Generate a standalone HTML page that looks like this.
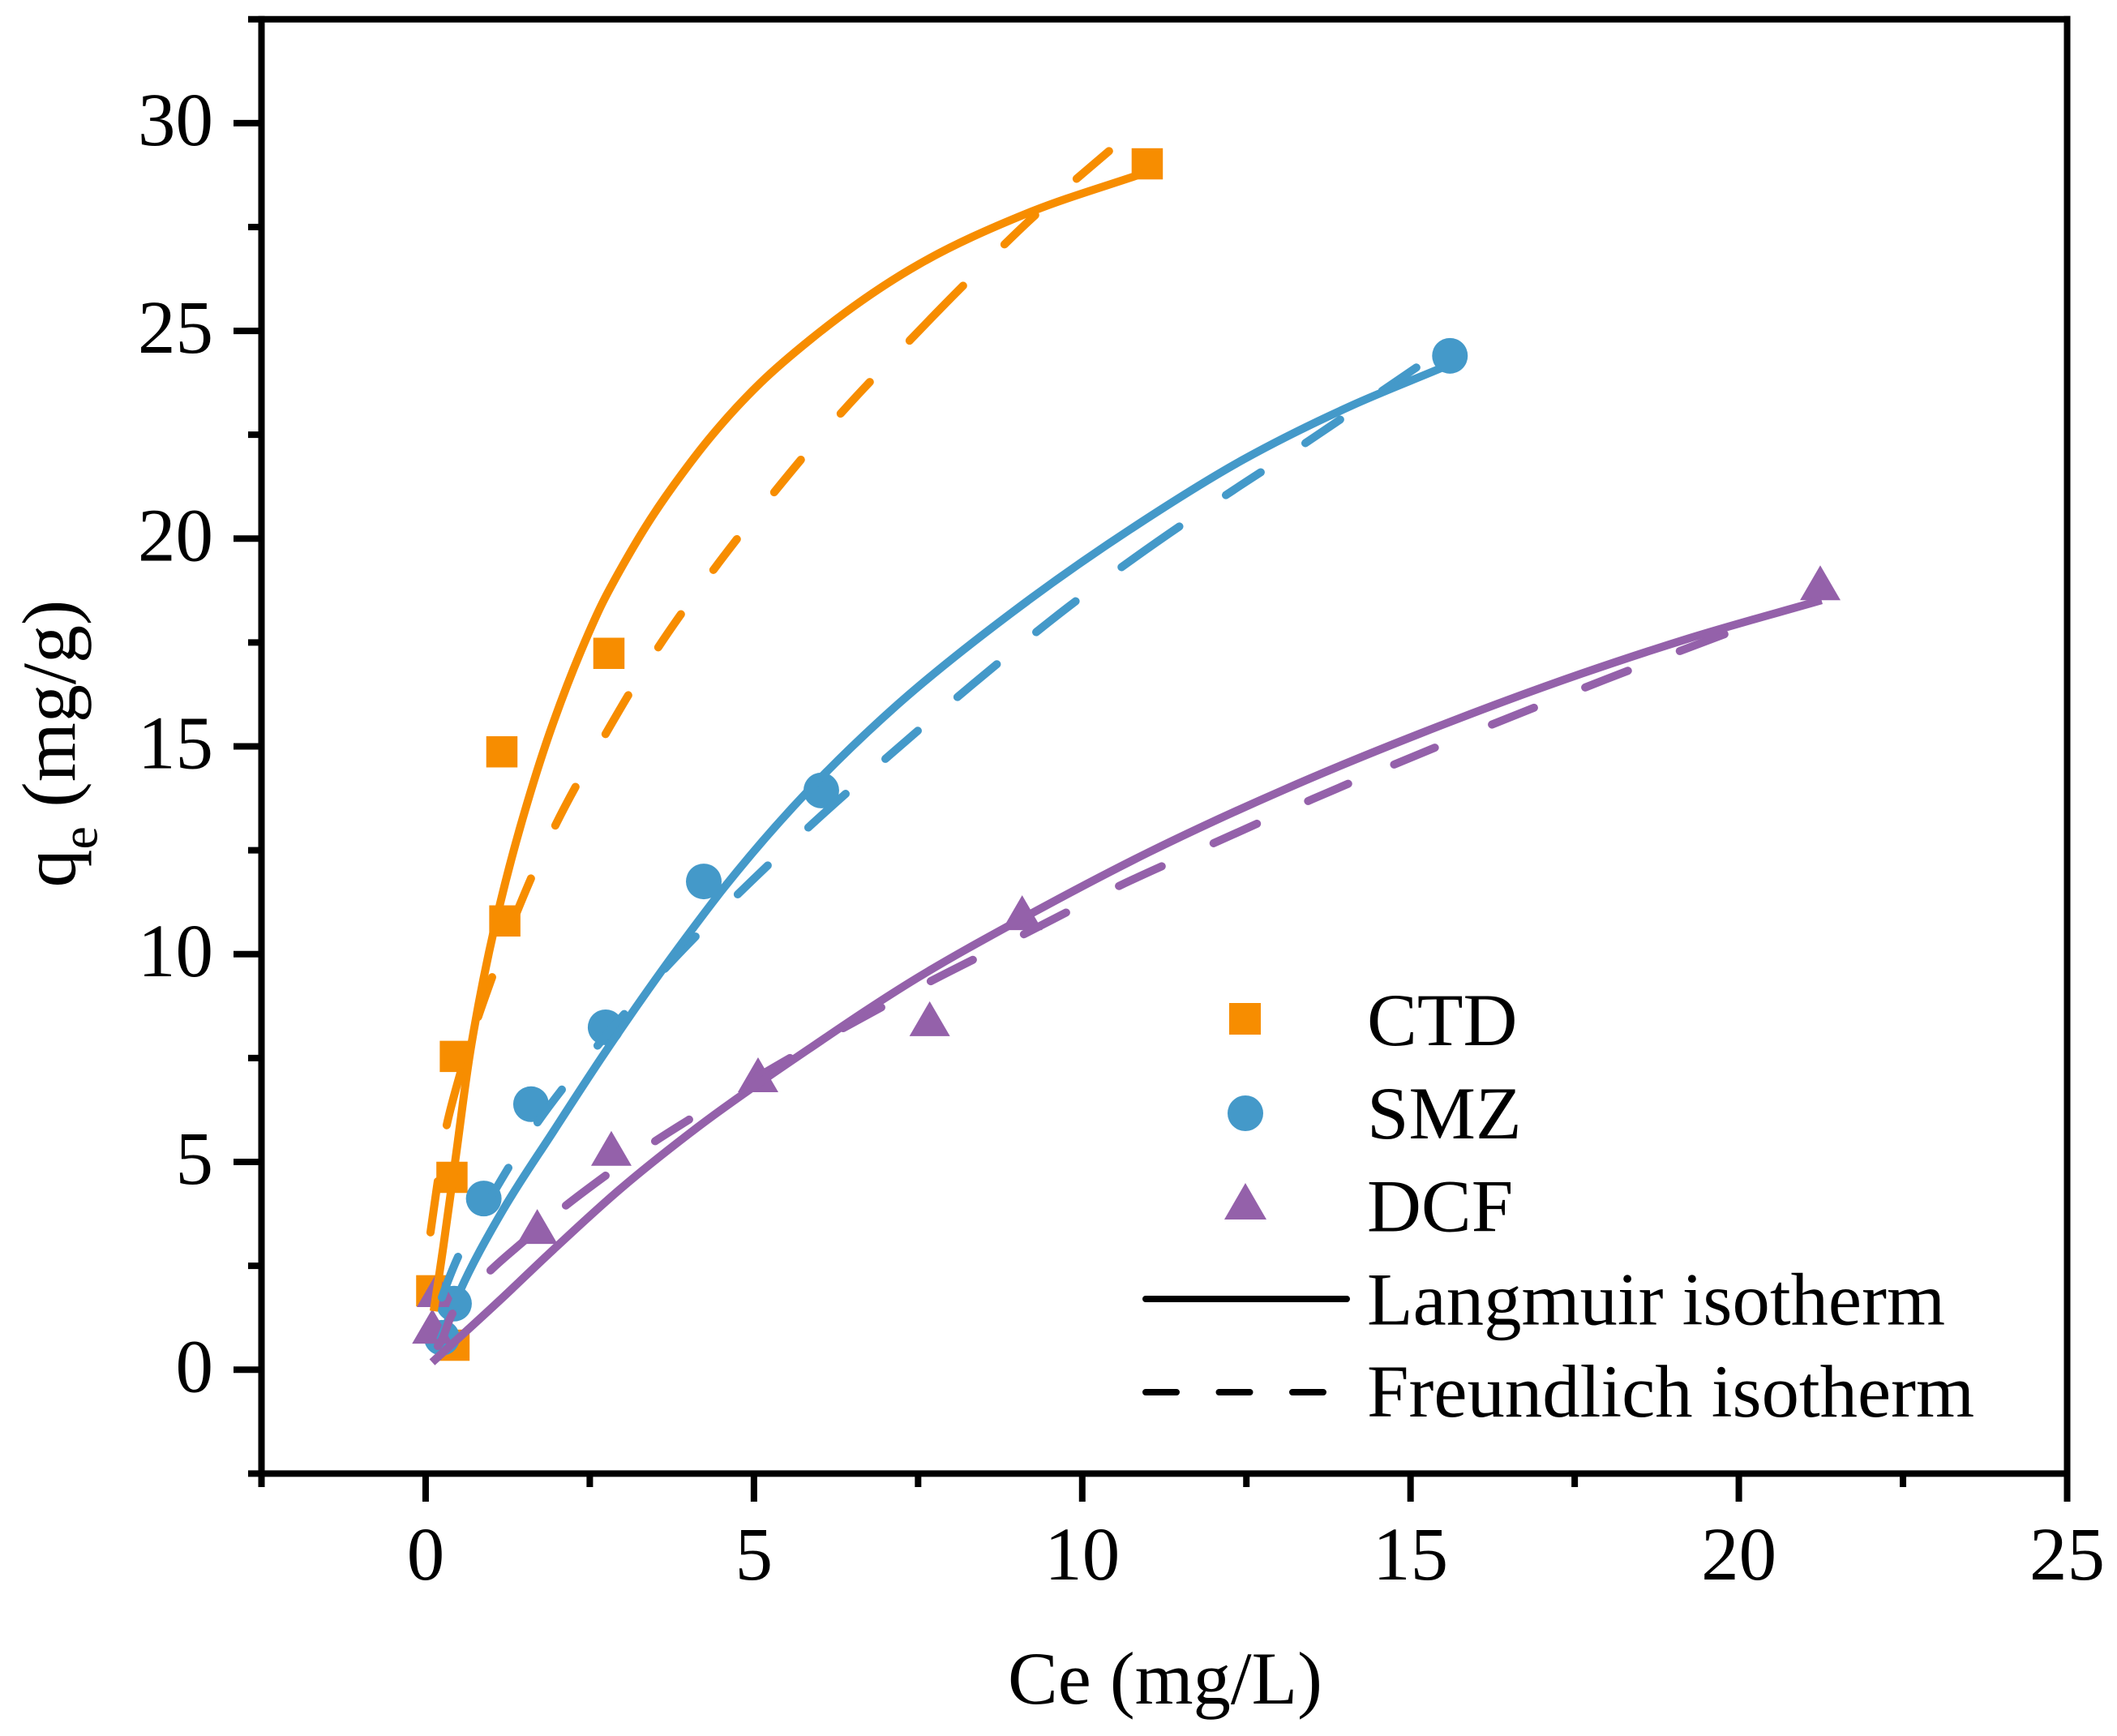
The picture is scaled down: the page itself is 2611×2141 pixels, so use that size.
<!DOCTYPE html>
<html>
<head>
<meta charset="utf-8">
<title>Adsorption isotherms</title>
<style>
html,body{margin:0;padding:0;background:#fff;}
svg{display:block;}
text{font-family:"Liberation Serif",serif;fill:#000;}
</style>
</head>
<body>
<svg id="chart" xmlns="http://www.w3.org/2000/svg" width="2611" height="2141" viewBox="0 0 2611 2141">
<rect x="0" y="0" width="2611" height="2141" fill="#fff"/>
<g id="marks"></g>
<g id="axes"></g>
<text x="1243" y="2101" font-size="92.5">Ce (mg/L)</text>
<text transform="translate(92.7,1094.5) rotate(-90)" font-size="94">q<tspan font-size="64" dy="27">e</tspan><tspan dy="-27"> (mg/g)</tspan></text>
<g>
<rect x="1516" y="1237" width="39" height="39" fill="#F78D00"/>
<text x="1686" y="1289" font-size="92.7">CTD</text>
<circle cx="1536" cy="1373" r="22" fill="#4499C9"/>
<text x="1686" y="1404" font-size="92.7">SMZ</text>
<polygon points="1536,1459 1562,1504 1510,1504" fill="#9461AA"/>
<text x="1686" y="1518.5" font-size="92.7">DCF</text>
<line x1="1413" y1="1602" x2="1661" y2="1602" stroke="#000" stroke-width="8" stroke-linecap="round"/>
<text x="1686" y="1633.5" font-size="92.7">Langmuir isotherm</text>
<line x1="1413" y1="1717" x2="1632" y2="1717" stroke="#000" stroke-width="8" stroke-linecap="round" stroke-dasharray="38 52.5"/>
<text x="1686" y="1747" font-size="92.7">Freundlich isotherm</text>
</g>
</svg>
<script>
// Axis ranges and tick labels
const xDomain = [-2.5, 25];
const yDomain = [-2.5, 32.5];
const xMajorTicks = [0, 5, 10, 15, 20, 25];
const xMinorTicks = [-2.5, 2.5, 7.5, 12.5, 17.5, 22.5];
const yMajorTicks = [0, 5, 10, 15, 20, 25, 30];
const yMinorTicks = [-2.5, 2.5, 7.5, 12.5, 17.5, 22.5, 27.5, 32.5];

// Measured points
const ctdCe = [0.093, 0.432, 0.401, 0.453, 1.206, 1.161, 2.791, 10.99];
const ctdQe = [1.90, 0.59, 4.63, 7.54, 10.80, 14.87, 17.24, 29.02];
const smzCe = [0.247, 0.432, 0.885, 1.605, 2.741, 4.236, 6.026, 15.60];
const smzQe = [0.77, 1.59, 4.12, 6.39, 8.24, 11.75, 13.94, 24.40];
const dcfCe = [0.173, 0.102, 1.70, 2.828, 5.063, 7.677, 9.085, 21.24];
const dcfQe = [1.84, 0.96, 3.36, 5.24, 7.01, 8.36, 10.91, 18.85];

// Fitted curves
const ctdLangmuirCe = [0.123, 0.206, 0.453, 0.700, 1.132, 1.503, 1.873, 2.367, 2.692, 3.0, 3.396, 3.9, 4.421, 5.1, 5.866, 7.508, 9.163, 10.966];
const ctdLangmuirQe = [1.41, 2.27, 5.05, 7.85, 11.2, 13.4, 15.25, 17.3, 18.45, 19.35, 20.4, 21.55, 22.6, 23.75, 24.8, 26.6, 27.83, 28.81];
const ctdFreundlichCe = [0.074, 0.185, 0.321, 0.531, 1.013, 1.379, 1.976, 2.741, 3.544, 4.384, 5.310, 6.322, 7.372, 8.187, 9.286, 10.41];
const ctdFreundlichQe = [3.30, 4.53, 5.88, 7.15, 9.45, 10.97, 13.10, 15.30, 17.39, 19.25, 21.12, 23.01, 24.77, 26.09, 27.79, 29.33];
const smzLangmuirCe = [0.222, 0.519, 1.173, 1.951, 2.717, 3.803, 4.544, 5.866, 7.076, 8.953, 10.805, 12.45, 14.10, 15.46];
const smzLangmuirQe = [0.71, 1.88, 3.83, 5.75, 7.6, 10.05, 11.6, 14.0, 15.85, 18.25, 20.3, 21.9, 23.2, 24.1];
const smzFreundlichCe = [0.123, 0.247, 0.494, 1.013, 1.704, 2.618, 3.643, 4.754, 5.829, 7.002, 8.335, 9.780, 10.805, 12.19, 13.40, 14.57, 15.09];
const smzFreundlichQe = [1.16, 1.74, 2.72, 4.2, 5.95, 7.8, 9.65, 11.44, 13.05, 14.7, 16.5, 18.35, 19.55, 21.05, 22.3, 23.56, 24.12];
const dcfLangmuirCe = [0.099, 1.136, 1.951, 2.988, 4.013, 5.866, 7.508, 9.076, 11.01, 13.06, 15.13, 17.60, 19.24, 21.26];
const dcfLangmuirQe = [0.18, 1.68, 2.9, 4.38, 5.68, 7.75, 9.45, 10.85, 12.45, 13.95, 15.3, 16.75, 17.6, 18.52];
const dcfFreundlichCe = [0.062, 0.185, 0.408, 0.988, 1.507, 2.136, 2.741, 3.495, 4.013, 5.125, 6.36, 7.693, 9.113, 10.56, 12.0, 13.52, 15.37, 16.88, 18.31, 19.78];
const dcfFreundlichQe = [0.38, 0.57, 1.35, 2.39, 3.11, 3.95, 4.67, 5.5, 6.02, 7.11, 8.22, 9.35, 10.48, 11.64, 12.67, 13.74, 14.97, 15.93, 16.82, 17.70];

// Ce values where each Freundlich dash starts and ends
const ctdDashEdges = [0.074, 0.185, 0.321, 0.531, 0.8, 1.013, 1.379, 1.605, 1.976, 2.284, 2.741, 3.087, 3.544, 3.890, 4.384, 4.742, 5.310, 5.717, 6.322, 6.767, 7.372, 8.187, 8.817, 9.286, 9.916, 10.41];
const smzDashEdges = [0.247, 0.494, 1.013, 1.260, 1.704, 2.075, 2.618, 3.025, 3.643, 4.112, 4.754, 5.211, 5.829, 6.397, 7.002, 7.496, 8.1, 8.7, 9.3, 9.9, 10.6, 11.48, 12.19, 12.72, 13.40, 13.93, 14.57, 15.09];
const dcfDashEdges = [0.185, 0.408, 0.988, 1.507, 2.136, 2.741, 3.495, 4.013, 4.95, 5.55, 6.36, 6.94, 7.693, 8.335, 9.113, 9.755, 10.56, 11.21, 12.0, 12.66, 13.44, 14.05, 14.75, 15.37, 16.24, 16.88, 17.66, 18.31, 19.10, 19.78];

const NS = 'http://www.w3.org/2000/svg';
const ORANGE = '#F78D00';
const BLUE = '#4499C9';
const PURPLE = '#9461AA';

const plotLeft = 322.5, plotRight = 2549.5, plotTop = 23.7, plotBottom = 1817.4;
function xScale(v) { return plotLeft + (v - xDomain[0]) / (xDomain[1] - xDomain[0]) * (plotRight - plotLeft); }
function yScale(v) { return plotBottom - (v - yDomain[0]) / (yDomain[1] - yDomain[0]) * (plotBottom - plotTop); }

const marks = document.getElementById('marks');
const axes = document.getElementById('axes');

function dist(a, b) { return Math.hypot(b[0] - a[0], b[1] - a[1]) || 1; }
function tangentAt(p, i) {
  if (i === 0) { const d = dist(p[0], p[1]); return [(p[1][0] - p[0][0]) / d, (p[1][1] - p[0][1]) / d]; }
  const n = p.length - 1;
  if (i === n) { const d = dist(p[n - 1], p[n]); return [(p[n][0] - p[n - 1][0]) / d, (p[n][1] - p[n - 1][1]) / d]; }
  const d0 = dist(p[i - 1], p[i]), d1 = dist(p[i], p[i + 1]);
  return [
    ((p[i][0] - p[i - 1][0]) / d0 * d1 + (p[i + 1][0] - p[i][0]) / d1 * d0) / (d0 + d1),
    ((p[i][1] - p[i - 1][1]) / d0 * d1 + (p[i + 1][1] - p[i][1]) / d1 * d0) / (d0 + d1)
  ];
}
function smoothPath(xs, ys) {
  const p = xs.map(function (x, i) { return [xScale(x), yScale(ys[i])]; });
  let d = 'M' + p[0][0].toFixed(1) + ' ' + p[0][1].toFixed(1);
  for (let i = 0; i < p.length - 1; i++) {
    const t0 = tangentAt(p, i), t1 = tangentAt(p, i + 1), h = dist(p[i], p[i + 1]) / 3;
    d += 'C' + (p[i][0] + t0[0] * h).toFixed(1) + ' ' + (p[i][1] + t0[1] * h).toFixed(1) + ' ' +
         (p[i + 1][0] - t1[0] * h).toFixed(1) + ' ' + (p[i + 1][1] - t1[1] * h).toFixed(1) + ' ' +
         p[i + 1][0].toFixed(1) + ' ' + p[i + 1][1].toFixed(1);
  }
  return d;
}
function lengthAtCe(path, ce) {
  const target = xScale(ce);
  let lo = 0, hi = path.getTotalLength();
  for (let k = 0; k < 30; k++) {
    const mid = (lo + hi) / 2;
    if (path.getPointAtLength(mid).x < target) { lo = mid; } else { hi = mid; }
  }
  return lo;
}

// Markers
ctdCe.forEach(function (x, i) {
  const el = document.createElementNS(NS, 'rect');
  
  
  el.setAttribute('x', xScale(x) - 19.25);
  el.setAttribute('y', yScale(ctdQe[i]) - 19.25);
  el.setAttribute('width', 38.5);
  el.setAttribute('height', 38.5);
  el.setAttribute('fill', ORANGE);
  marks.appendChild(el);
});
smzCe.forEach(function (x, i) {
  const el = document.createElementNS(NS, 'circle');
  
  
  el.setAttribute('cx', xScale(x));
  el.setAttribute('cy', yScale(smzQe[i]));
  el.setAttribute('r', 22);
  el.setAttribute('fill', BLUE);
  marks.appendChild(el);
});
dcfCe.forEach(function (x, i) {
  const cx = xScale(x), cy = yScale(dcfQe[i]);
  const el = document.createElementNS(NS, 'polygon');
  
  
  el.setAttribute('points', cx + ',' + (cy - 26) + ' ' + (cx + 25) + ',' + (cy + 17) + ' ' + (cx - 25) + ',' + (cy + 17));
  el.setAttribute('fill', PURPLE);
  marks.appendChild(el);
});

// Curves
function addCurve(name, xs, ys, color, dashEdges) {
  const el = document.createElementNS(NS, 'path');
  
  
  el.setAttribute('d', smoothPath(xs, ys));
  el.setAttribute('fill', 'none');
  el.setAttribute('stroke', color);
  el.setAttribute('stroke-width', 10);
  marks.appendChild(el);
  if (dashEdges) {
    const lens = dashEdges.map(function (ce) { return lengthAtCe(el, ce); });
    const pattern = [];
    for (let i = 1; i < lens.length; i++) { pattern.push((lens[i] - lens[i - 1]).toFixed(1)); }
    pattern.push(5000);
    el.setAttribute('stroke-dasharray', pattern.join(' '));
    el.setAttribute('stroke-dashoffset', (-lens[0]).toFixed(1));
    el.setAttribute('stroke-linecap', 'round');
  }
}
addCurve('ctd-freundlich-curve', ctdFreundlichCe, ctdFreundlichQe, ORANGE, ctdDashEdges);
addCurve('ctd-langmuir-curve', ctdLangmuirCe, ctdLangmuirQe, ORANGE, null);
addCurve('smz-freundlich-curve', smzFreundlichCe, smzFreundlichQe, BLUE, smzDashEdges);
addCurve('smz-langmuir-curve', smzLangmuirCe, smzLangmuirQe, BLUE, null);
addCurve('dcf-freundlich-curve', dcfFreundlichCe, dcfFreundlichQe, PURPLE, dcfDashEdges);
addCurve('dcf-langmuir-curve', dcfLangmuirCe, dcfLangmuirQe, PURPLE, null);

// Axes
function addLine(name, x1, y1, x2, y2) {
  const el = document.createElementNS(NS, 'line');
  
  
  el.setAttribute('x1', x1);
  el.setAttribute('y1', y1);
  el.setAttribute('x2', x2);
  el.setAttribute('y2', y2);
  el.setAttribute('stroke', '#000');
  el.setAttribute('stroke-width', 8);
  axes.appendChild(el);
}
function addLabel(name, str, x, y, anchor) {
  const el = document.createElementNS(NS, 'text');
  
  
  el.setAttribute('x', x);
  el.setAttribute('y', y);
  el.setAttribute('font-size', 93);
  el.setAttribute('text-anchor', anchor);
  el.textContent = str;
  axes.appendChild(el);
}
addLine('left-spine', plotLeft, plotTop - 4, plotLeft, plotBottom + 4);
addLine('right-spine', plotRight, plotTop - 4, plotRight, plotBottom + 4);
addLine('top-spine', plotLeft, plotTop, plotRight + 4, plotTop);
addLine('bottom-spine', plotLeft, plotBottom, plotRight + 4, plotBottom);
xMajorTicks.forEach(function (v) {
  addLine('x-major-tick', xScale(v), plotBottom, xScale(v), 1852);
  addLabel('x-tick-label', String(v), xScale(v), 1948, 'middle');
});
xMinorTicks.forEach(function (v) {
  addLine('x-minor-tick', xScale(v), plotBottom, xScale(v), 1834);
});
yMajorTicks.forEach(function (v) {
  addLine('y-major-tick', 288, yScale(v), plotLeft, yScale(v));
  addLabel('y-tick-label', String(v), 263, yScale(v) + 27, 'end');
});
yMinorTicks.forEach(function (v) {
  addLine('y-minor-tick', 306, yScale(v), plotLeft, yScale(v));
});
</script>
</body>
</html>
